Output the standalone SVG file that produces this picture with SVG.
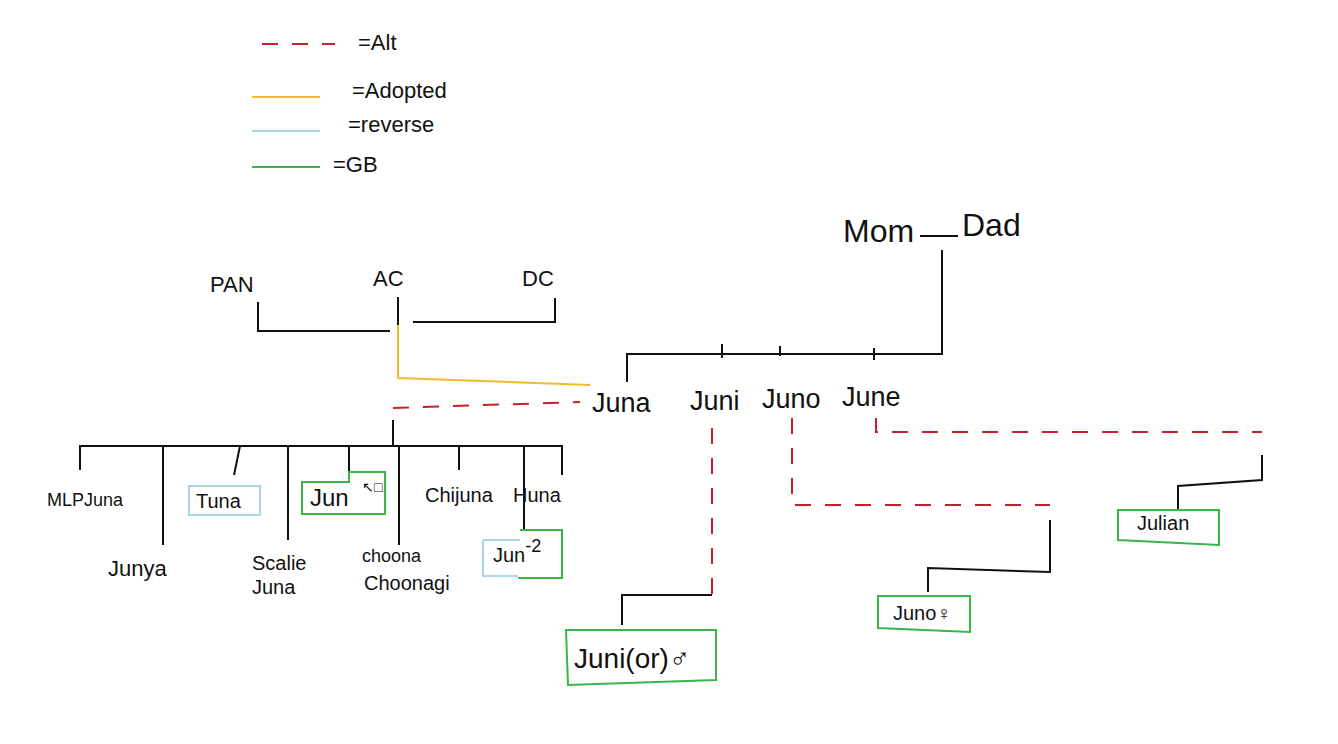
<svg xmlns="http://www.w3.org/2000/svg" width="1338" height="744" viewBox="0 0 1338 744" font-size="22">
<style>
text{font-family:"Liberation Sans",sans-serif;fill:#111}
.k{stroke:#111;stroke-width:2;fill:none}
.r{stroke:#c8202a;stroke-width:2;fill:none;stroke-dasharray:16 14}
.y{stroke:#f0bd2a;stroke-width:2;fill:none}
.b{stroke:#a8d8e8;stroke-width:2;fill:none}
.g{stroke:#3ab54a;stroke-width:2;fill:none}
</style>
<rect width="1338" height="744" fill="#fff"/>
<g id="legend">
<path class="r" d="M262 44H335"/><text x="358" y="50">=Alt</text>
<path class="y" d="M252 97H320"/><text x="352" y="98">=Adopted</text>
<path class="b" d="M252 131H320"/><text x="348" y="132">=reverse</text>
<path class="g" d="M252 167H320"/><text x="333" y="172">=GB</text>
</g>
<g id="connectors">
<path class="k" d="M920 236H958M942 250V354H627V382M722 344V358M780 346V356M874 348V360"/>
<path class="k" d="M258 302V331H390M398 297V325M413 322H555V298"/>
<path class="y" d="M398 325V378L590 385"/>
<path class="r" d="M393 408L580 402"/>
<path class="k" d="M393 420V446M80 470V446H562V475M163 446V545M240 446L234 475M288 446V540M349 446V482M399 446V545M459 446V470M524 446V530"/>
<path class="r" d="M712 428V596"/>
<path class="k" d="M712 595H622V625"/>
<path class="r" d="M792 418V505H1050"/>
<path class="k" d="M1050 520V572L928 568V592"/>
<path class="r" d="M876 418V432H1262"/>
<path class="k" d="M1262 455V480L1178 486V510"/>
</g>
<g id="parents"><text x="843" y="242" font-size="32">Mom</text><text x="962" y="236" font-size="32">Dad</text></g>
<g id="pan"><text x="210" y="292">PAN</text></g>
<g id="ac"><text x="373" y="286">AC</text></g>
<g id="dc"><text x="522" y="286">DC</text></g>
<g id="juna"><text x="592" y="412" font-size="27">Juna</text></g>
<g id="juni"><text x="690" y="410" font-size="27">Juni</text></g>
<g id="juno"><text x="762" y="408" font-size="27">Juno</text></g>
<g id="june"><text x="842" y="406" font-size="27">June</text></g>
<g id="mlpjuna"><text x="47" y="506" font-size="18">MLPJuna</text></g>
<g id="junya"><text x="108" y="576">Junya</text></g>
<g id="tuna"><path class="b" d="M189 486H260V515H189Z"/><text x="196" y="508" font-size="20">Tuna</text></g>
<g id="jun"><path class="g" d="M302 482H349V472H385V514H302Z"/><text x="310" y="506" font-size="24">Jun</text><text x="362" y="492" font-size="14">↖□</text></g>
<g id="scalie"><text x="252" y="570" font-size="20">Scalie</text><text x="252" y="594" font-size="20">Juna</text></g>
<g id="choona"><text x="362" y="562" font-size="18">choona</text><text x="364" y="590" font-size="20">Choonagi</text></g>
<g id="chijuna"><text x="425" y="502" font-size="20">Chijuna</text></g>
<g id="huna"><text x="513" y="502" font-size="20">Huna</text></g>
<g id="jun2"><path class="b" d="M483 540H520M483 540V576H518"/><path class="g" d="M520 530H562V578H518"/><text x="493" y="562" font-size="20">Jun<tspan dy="-10" font-size="18">-2</tspan></text></g>
<g id="junior"><path class="g" d="M566 630H716V680L568 685Z"/><text x="574" y="668" font-size="28">Juni(or)♂</text></g>
<g id="juno2"><path class="g" d="M878 596H970V632L878 628Z"/><text x="893" y="620" font-size="20">Juno♀</text></g>
<g id="julian"><path class="g" d="M1118 510H1219V545L1118 540Z"/><text x="1137" y="530" font-size="20">Julian</text></g>
</svg>
